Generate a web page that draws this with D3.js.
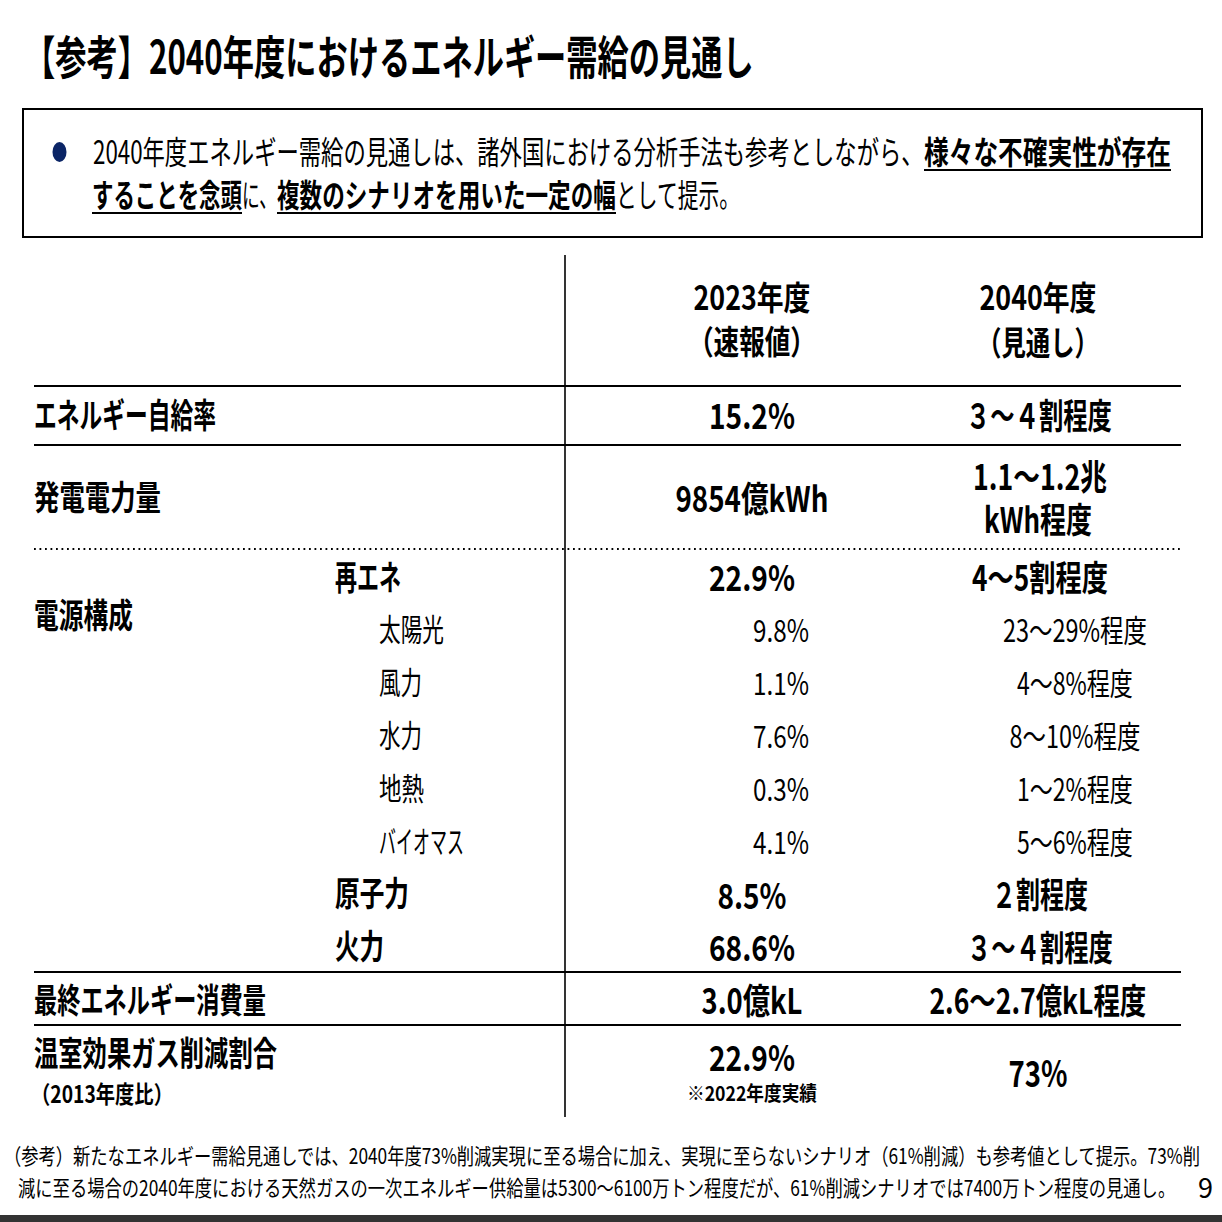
<!DOCTYPE html>
<html><head><meta charset="utf-8">
<script src="https://cdn.jsdelivr.net/npm/d3@7"></script>
<style>
html,body{margin:0;padding:0;background:#fff;}
svg{display:block;font-family:"Noto Sans CJK JP","Noto Sans",sans-serif;}
</style>
</head><body>
<svg id="c" width="1222" height="1222"></svg>
<script>
// ---------------- data ----------------
const title = "【参考】2040年度におけるエネルギー需給の見通し";
const bulletLine1 = [
  {t:"2040年度エネルギー需給の見通しは、諸外国における分析手法も参考としながら、", b:false},
  {t:"様々な不確実性が存在", b:true}
];
const bulletLine2 = [
  {t:"することを念頭", b:true},
  {t:"に、", b:false},
  {t:"複数のシナリオを用いた一定の幅", b:true},
  {t:"として提示。", b:false}
];
const columns = ["2023年度","2040年度"];
const columnNotes = ["（速報値）","（見通し）"];
const mainRows = ["エネルギー自給率","発電電力量","電源構成","最終エネルギー消費量","温室効果ガス削減割合"];
const mainRowNote = "（2013年度比）";
const selfSufficiency = ["15.2%","３～４割程度"];
const generation2023 = ["9854億kWh"];
const generation2040 = ["1.1～1.2兆","kWh程度"];
const mixLabels = ["再エネ","太陽光","風力","水力","地熱","バイオマス","原子力","火力"];
const mixMajor = ["再エネ","原子力","火力"];
const mix2023 = ["22.9%","9.8%","1.1%","7.6%","0.3%","4.1%","8.5%","68.6%"];
const mix2040 = ["4～5割程度","23～29%程度","4～8%程度","8～10%程度","1～2%程度","5～6%程度","２割程度","３～４割程度"];
const finalConsumption = ["3.0億kL","2.6～2.7億kL程度"];
const ghgReduction = ["22.9%","73%"];
const ghgNote = "※2022年度実績";
const footnotes = [
  "（参考）新たなエネルギー需給見通しでは、2040年度73%削減実現に至る場合に加え、実現に至らないシナリオ（61%削減）も参考値として提示。73%削",
  "減に至る場合の2040年度における天然ガスの一次エネルギー供給量は5300～6100万トン程度だが、61%削減シナリオでは7400万トン程度の見通し。"
];
const pageNumber = "9";

// ---------------- layout (rendered text widths, condensed face) ----------------
const W = {
  [title]:730,
  "2040年度エネルギー需給の見通しは、諸外国における分析手法も参考としながら、":831,
  "様々な不確実性が存在":247, "することを念頭":150, "に、":35,
  "複数のシナリオを用いた一定の幅":339, "として提示。":124,
  "2023年度":117, "2040年度":117, "（速報値）":128, "（見通し）":122,
  "エネルギー自給率":182, "発電電力量":127, "電源構成":99, "最終エネルギー消費量":232,
  "温室効果ガス削減割合":243, "（2013年度比）":142,
  "15.2%":86, "３～４割程度":146, "9854億kWh":153, "1.1～1.2兆":134, "kWh程度":108,
  "再エネ":66, "太陽光":65, "風力":43, "水力":43, "地熱":45, "バイオマス":85, "原子力":74, "火力":49,
  "22.9%":86, "9.8%":56, "1.1%":56, "7.6%":56, "0.3%":56, "4.1%":56, "8.5%":69, "68.6%":86,
  "4～5割程度":136, "23～29%程度":144, "4～8%程度":116, "8～10%程度":131, "1～2%程度":116,
  "5～6%程度":116, "２割程度":96,
  "3.0億kL":101, "2.6～2.7億kL程度":217, "73%":59, "※2022年度実績":130,
  [footnotes[0]]:1197, [footnotes[1]]:1158, "9":15
};
const DY = -3; // optical baseline correction for the CJK face

const svg = d3.select("#c");
svg.append("rect").attr("width",1222).attr("height",1222).attr("fill","#fff");

// draws text condensed horizontally to the target width (the reference uses a narrow face)
function put(g, text, x, y, o) {
  const w = (o.w !== undefined) ? o.w : W[text];
  const left = o.anchor === "middle" ? x - w/2 : x;
  const t = g.append("text")
    .attr("x", 0).attr("y", 0)
    .attr("font-size", o.size).attr("font-weight", o.bold ? 700 : 400)
    .attr("fill", "#000")
    .attr("dominant-baseline", "central")
    .text(text);
  const nat = t.node().getComputedTextLength() || w;
  t.attr("transform", `translate(${left},${y + DY}) scale(${w / nat},1)`);
  return t;
}

// ---------------- title ----------------
put(svg, title, 24, 57, {size:46, bold:true});

// ---------------- bullet box ----------------
svg.append("rect").attr("x",23).attr("y",109).attr("width",1179).attr("height",128)
  .attr("fill","none").attr("stroke","#000").attr("stroke-width",2);
svg.append("ellipse").attr("cx",59.5).attr("cy",152).attr("rx",7).attr("ry",10).attr("fill","#0b2566");

function bulletLine(parts, x0, y, ulY) {
  let x = x0;
  parts.forEach(p => {
    const w = W[p.t];
    put(svg, p.t, x, y, {size:32, bold:p.b});
    if (p.b) {
      svg.append("line").attr("x1",x).attr("x2",x+w).attr("y1",ulY).attr("y2",ulY)
        .attr("stroke","#000").attr("stroke-width",2);
    }
    x += w;
  });
}
bulletLine(bulletLine1, 93, 153, 170);
bulletLine(bulletLine2, 92, 196, 213);

// ---------------- table scales ----------------
const xCol = d3.scalePoint().domain(columns).range([752, 1038]);
const yMain = d3.scaleOrdinal().domain(mainRows).range([416, 498, 617, 1001, 1055]);
const yMix = d3.scalePoint().domain(mixLabels).range([578, 948]);
const tbl = svg.append("g");

// rules
const ruleX = [34, 1181];
[386, 445, 972, 1025].forEach(y => {
  tbl.append("line").attr("x1",ruleX[0]).attr("x2",ruleX[1]).attr("y1",y).attr("y2",y)
    .attr("stroke","#000").attr("stroke-width",2.2);
});
tbl.append("line").attr("x1",ruleX[0]).attr("x2",ruleX[1]).attr("y1",549).attr("y2",549)
  .attr("stroke","#000").attr("stroke-width",1.8).attr("stroke-dasharray","1.8,3.7");
tbl.append("line").attr("x1",565).attr("x2",565).attr("y1",255).attr("y2",1117)
  .attr("stroke","#000").attr("stroke-width",1.6);

// column headers
columns.forEach((c,i) => {
  put(tbl, c, xCol(c), 299, {size:33, bold:true, anchor:"middle"});
  put(tbl, columnNotes[i], xCol(c), 343, {size:33, bold:true, anchor:"middle"});
});

// main row labels
mainRows.forEach(r => put(tbl, r, 34, yMain(r), {size:34, bold:true}));
put(tbl, mainRowNote, 31, 1096, {size:24, bold:true});

// self sufficiency
columns.forEach((c,i) => put(tbl, selfSufficiency[i], xCol(c) + (i ? 1 : 0), yMain(mainRows[0]) + 1, {size:35, bold:true, anchor:"middle"}));

// generation
put(tbl, generation2023[0], xCol(columns[0]), yMain(mainRows[1]) + 1, {size:35, bold:true, anchor:"middle"});
generation2040.forEach((t,i) => put(tbl, t, xCol(columns[1]) + (i ? 0 : 2), [478, 521][i], {size:35, bold:true, anchor:"middle"}));

// power mix
mixLabels.forEach((m,i) => {
  const major = mixMajor.includes(m);
  const y = yMix(m);
  put(tbl, m, major ? 335 : 379, y, {size: major ? 34 : 31, bold: major});
  if (major) {
    put(tbl, mix2023[i], xCol(columns[0]), y + 1, {size:35, bold:true, anchor:"middle"});
    put(tbl, mix2040[i], xCol(columns[1]) + 2, y + 1, {size:35, bold:true, anchor:"middle"});
  } else {
    put(tbl, mix2023[i], xCol(columns[0]) + 29, y + 1, {size:31, anchor:"middle"});
    put(tbl, mix2040[i], xCol(columns[1]) + 37, y + 1, {size:31, anchor:"middle"});
  }
});

// final consumption
columns.forEach((c,i) => put(tbl, finalConsumption[i], xCol(c), yMain(mainRows[3]) + 1, {size:35, bold:true, anchor:"middle"}));

// GHG
put(tbl, ghgReduction[0], xCol(columns[0]), 1059, {size:35, bold:true, anchor:"middle"});
put(tbl, ghgNote, xCol(columns[0]), 1095, {size:20, bold:true, anchor:"middle"});
put(tbl, ghgReduction[1], xCol(columns[1]), 1074, {size:36, bold:true, anchor:"middle"});

// ---------------- footnotes ----------------
put(svg, footnotes[0], 4, 1158, {size:22});
put(svg, footnotes[1], 18, 1190, {size:22});
put(svg, pageNumber, 1198, 1189, {size:28});
svg.append("rect").attr("x",0).attr("y",1215).attr("width",1222).attr("height",7).attr("fill","#333");
</script>
</body></html>
